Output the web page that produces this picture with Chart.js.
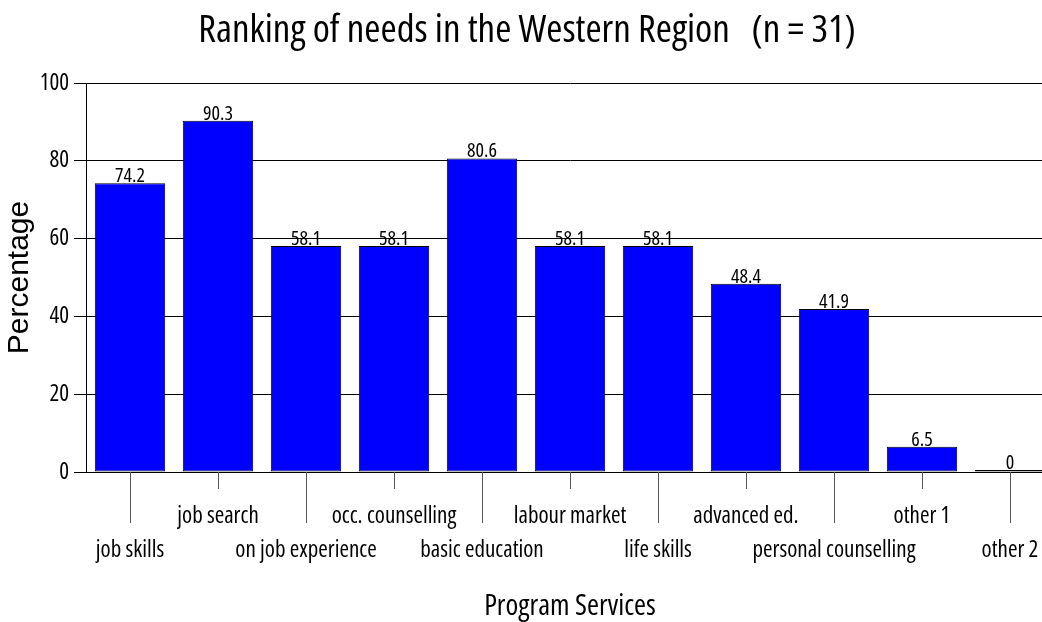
<!DOCTYPE html>
<html>
<head>
<meta charset="utf-8">
<script src="https://cdn.jsdelivr.net/npm/chart.js@4/dist/chart.umd.min.js"></script>
<style>
  html, body { margin: 0; padding: 0; background: #fff; overflow: hidden; }
  #wrap { width: 1056px; height: 622px; position: relative; }
</style>
</head>
<body>
<div id="wrap"><canvas id="c" width="1056" height="622"></canvas></div>
<script>
const categories = ['job skills', 'job search', 'on job experience', 'occ. counselling', 'basic education',
  'labour market', 'life skills', 'advanced ed.', 'personal counselling', 'other 1', 'other 2'];
const percentages = [74.2, 90.3, 58.1, 58.1, 80.6, 58.1, 58.1, 48.4, 41.9, 6.5, 0];
const yTicks = [0, 20, 40, 60, 80, 100];

const NARROW = '"Open Sans", "DejaVu Sans Condensed", sans-serif';
const COND = '400 condensed';
const REG = '"Liberation Sans", Arial, sans-serif';

const valueLabels = {
  id: 'valueLabels',
  afterDatasetsDraw(chart) {
    const ctx = chart.ctx;
    const meta = chart.getDatasetMeta(0);
    ctx.save();
    ctx.font = COND + ' 20px ' + NARROW;
    ctx.fillStyle = '#000';
    ctx.textAlign = 'center';
    ctx.textBaseline = 'alphabetic';
    meta.data.forEach((bar, i) => {
      ctx.fillText(String(percentages[i]), bar.x, bar.y - 1);
    });
    ctx.restore();
  }
};

const catTicks = {
  id: 'catTicks',
  afterDraw(chart) {
    const ctx = chart.ctx;
    const x = chart.scales.x;
    const y0 = chart.scales.y.getPixelForValue(0);
    ctx.save();
    ctx.strokeStyle = '#555';
    ctx.lineWidth = 1;
    categories.forEach((c, i) => {
      const px = Math.round(x.getPixelForValue(i)) + 0.5;
      const len = (i % 2 === 0) ? 51 : 17;
      ctx.beginPath();
      ctx.moveTo(px, y0);
      ctx.lineTo(px, y0 + len);
      ctx.stroke();
    });
    ctx.restore();
  }
};

new Chart(document.getElementById('c'), {
  type: 'bar',
  data: {
    labels: categories,
    datasets: [{
      data: percentages,
      backgroundColor: '#0000ff',
      borderColor: '#000',
      borderWidth: 1,
      borderSkipped: false,
      minBarLength: 2,
      barPercentage: 0.8,
      categoryPercentage: 1.0
    }]
  },
  options: {
    responsive: false,
    animation: false,
    layout: { padding: { left: 0, right: 2, top: 0, bottom: 0 } },
    plugins: {
      legend: { display: false },
      tooltip: { enabled: false },
      title: {
        display: true,
        text: 'Ranking of needs in the Western Region   (n = 31)',
        color: '#000',
        font: { family: NARROW, size: 39, weight: COND, lineHeight: 1 },
        padding: { top: 11, bottom: 33 }
      }
    },
    scales: {
      x: {
        afterFit(s) { s.height = 150; },
        grid: { display: false },
        border: { display: false },
        ticks: {
          autoSkip: false,
          maxRotation: 0,
          minRotation: 0,
          color: '#000',
          padding: -15,
          font: { family: NARROW, size: 23, weight: COND, lineHeight: 34 / 23 },
          callback(v, i) {
            return i % 2 === 0 ? ['', '', categories[i]] : ['', categories[i], ''];
          }
        },
        title: {
          display: true,
          text: 'Program Services',
          color: '#000',
          font: { family: NARROW, size: 29, weight: COND, lineHeight: 1 },
          padding: { top: 0, bottom: 1 }
        }
      },
      y: {
        min: 0,
        max: 100,
        afterFit(s) { s.width = 86; },
        afterBuildTicks(s) { s.ticks = yTicks.map(v => ({ value: v })); },
        grid: { color: '#000', lineWidth: 1, drawTicks: true, tickLength: 12, tickColor: '#000' },
        border: { display: true, color: '#000', width: 1 },
        ticks: {
          color: '#000',
          padding: 5,
          font: { family: NARROW, size: 23, weight: COND }
        },
        title: {
          display: true,
          text: 'Percentage',
          color: '#000',
          font: { family: REG, size: 30, lineHeight: 1 },
          padding: { top: 5, bottom: 0 }
        }
      }
    }
  },
  plugins: [valueLabels, catTicks]
});
</script>
</body>
</html>
